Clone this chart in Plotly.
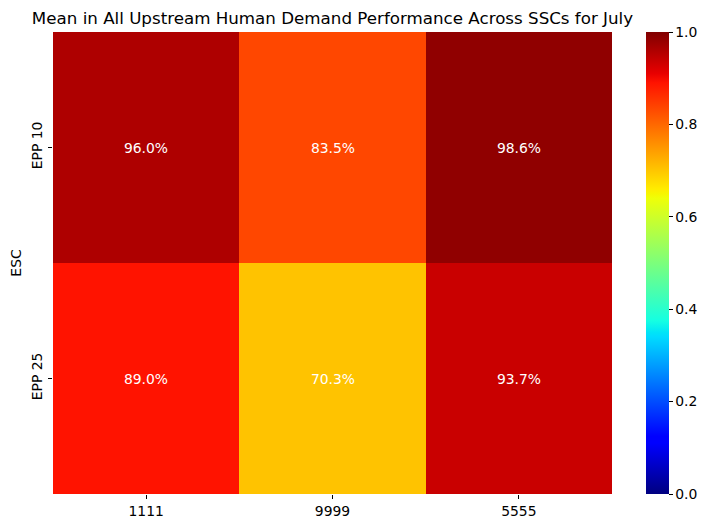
import plotly.graph_objects as go

ssc_labels = ['1111', '9999', '5555']
esc_labels = ['EPP 10', 'EPP 25']
perf_epp10 = [0.960, 0.835, 0.986]
perf_epp25 = [0.890, 0.703, 0.937]

# matplotlib 'jet' segment data
jet_red = [(0, 0), (0.35, 0), (0.66, 1), (0.89, 1), (1, 0.5)]
jet_green = [(0, 0), (0.125, 0), (0.375, 1), (0.64, 1), (0.91, 0), (1, 0)]
jet_blue = [(0, 0.5), (0.11, 1), (0.34, 1), (0.65, 0), (1, 0)]

def interp(seg, x):
	for (x0, y0), (x1, y1) in zip(seg[:-1], seg[1:]):
		if x0 <= x <= x1:
			return y0 + (y1 - y0) * (x - x0) / (x1 - x0)
	return seg[-1][1]

stops = sorted({p[0] for s in (jet_red, jet_green, jet_blue) for p in s})
jet = [
	[s, f'rgb({round(255*interp(jet_red, s))},{round(255*interp(jet_green, s))},{round(255*interp(jet_blue, s))})']
	for s in stops
]

font = 'DejaVu Sans'

# page body has an 8px margin, so the figure is 8px smaller than the window
fig = go.Figure()
fig.add_trace(
	go.Heatmap(
		x = ssc_labels,
		y = esc_labels,
		z = [perf_epp10, perf_epp25],
		zmin = 0,
		zmax = 1,
		colorscale = jet,
		texttemplate = '%{z:.1%}',
		textfont = dict(color = 'white', size = 13.9, family = font),
		colorbar = dict(
			x = 1.061,
			xanchor = 'left',
			y = 0.5,
			yanchor = 'middle',
			len = 1,
			lenmode = 'fraction',
			thickness = 23,
			xpad = 0,
			ypad = 0,
			outlinewidth = 0,
			ticks = 'outside',
			ticklen = 4,
			tickcolor = 'black',
			tickvals = [0, 0.2, 0.4, 0.6, 0.8, 1.0],
			tickformat = '.1f',
			tickfont = dict(size = 13.9, family = font, color = 'black'),
		),
	)
)
fig.update_layout(
	width = 702,
	height = 520,
	margin = dict(l = 45, r = 98, t = 24, b = 34, autoexpand = False),
	paper_bgcolor = 'white',
	plot_bgcolor = 'white',
	font = dict(family = font, color = 'black'),
	title = dict(
		text = 'Mean in All Upstream Human Demand Performance Across SSCs for July',
		x = 0.5,
		xref = 'paper',
		xanchor = 'center',
		y = 1 - 10/520,
		yref = 'container',
		yanchor = 'middle',
		font = dict(size = 16.7, family = font, color = 'black'),
	),
)
fig.update_xaxes(
	type = 'category',
	ticks = 'outside',
	ticklen = 4,
	tickcolor = 'black',
	showgrid = False,
	zeroline = False,
	tickfont = dict(size = 13.9, family = font),
)
fig.update_yaxes(
	type = 'category',
	autorange = 'reversed',
	ticks = 'outside',
	ticklen = 4,
	tickcolor = 'black',
	tickangle = -90,
	showgrid = False,
	zeroline = False,
	tickfont = dict(size = 13.9, family = font),
	title = dict(text = 'ESC', font = dict(size = 13.9, family = font), standoff = 6),
)
fig.write_html('out.html')
